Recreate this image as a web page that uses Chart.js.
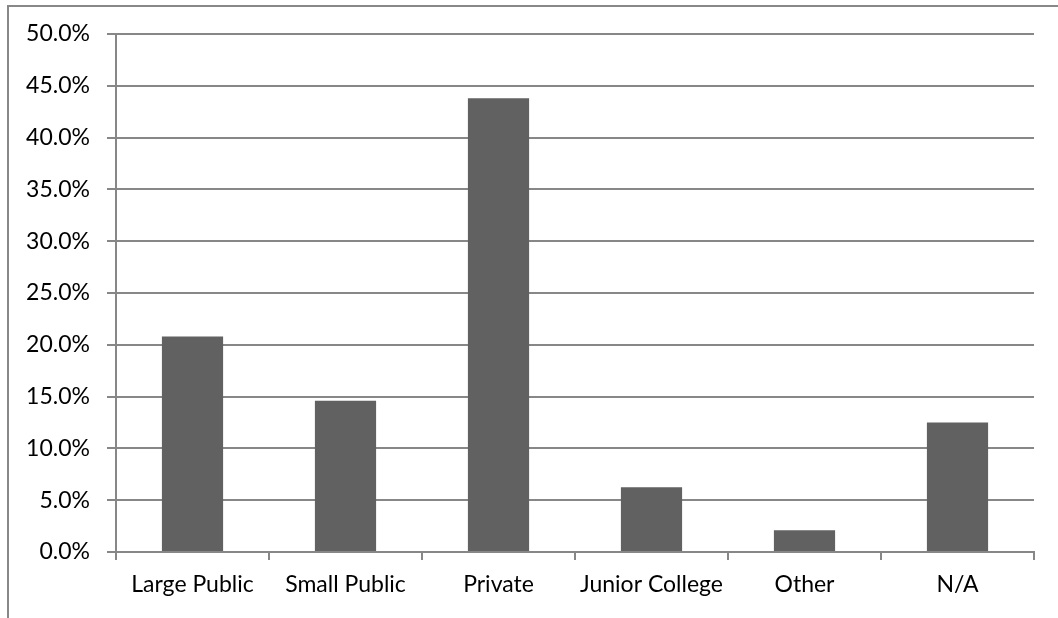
<!DOCTYPE html>
<html>
<head>
<meta charset="utf-8">
<script src="https://cdn.jsdelivr.net/npm/chart.js@4"></script>
<style>
  html, body { margin: 0; padding: 0; background: #fff; overflow: hidden; }
  #frame {
    position: absolute; left: 7px; top: 5px; width: 1100px; height: 700px;
    border-left: 2px solid #888; border-top: 2px solid #888;
  }
  #myChart { position: absolute; left: 0; top: 0; }
</style>
</head>
<body>
<div id="frame"></div>
<canvas id="myChart" width="1058" height="618"></canvas>
<script>
// share of respondents by school type
const categories = ['Large Public', 'Small Public', 'Private', 'Junior College', 'Other', 'N/A']
const shares = [20.8, 14.6, 43.8, 6.25, 2.1, 12.5]

const yMin = 0
const yMax = 50
const yStep = 5

const gridColor = '#878787'

const data = {
    labels: categories,
    datasets: [{
        data: shares,
        backgroundColor: '#616161',
        barPercentage: 0.4,
        categoryPercentage: 1.0
    }]
}

const config = {
    type: 'bar',
    data,
    options: {
        responsive: false,
        devicePixelRatio: 1,
        animation: false,
        layout: {
            padding: { top: 34, right: 24, left: 0, bottom: 0 }
        },
        plugins: {
            legend: { display: false },
            tooltip: { enabled: false }
        },
        scales: {
            x: {
                offset: true,
                grid: {
                    offset: true,
                    drawOnChartArea: false,
                    drawTicks: true,
                    tickLength: 8,
                    color: gridColor,
                    lineWidth: 2
                },
                border: { color: gridColor, width: 2 },
                ticks: {
                    color: '#000',
                    padding: 11,
                    font: { family: 'Lato', size: 23 },
                    maxRotation: 0,
                    autoSkip: false
                },
                afterFit: (scale) => { scale.height = 618 - 552 }
            },
            y: {
                min: yMin,
                max: yMax,
                grid: {
                    color: gridColor,
                    lineWidth: 2,
                    tickLength: 9
                },
                border: { color: gridColor, width: 2 },
                ticks: {
                    stepSize: yStep,
                    color: '#000',
                    padding: 17,
                    font: { family: 'Lato', size: 23 },
                    callback: (v) => v.toFixed(1) + '%'
                },
                afterFit: (scale) => { scale.width = 116 }
            }
        }
    }
}

var chart = new Chart(document.getElementById('myChart'), config)
</script>
</body>
</html>
